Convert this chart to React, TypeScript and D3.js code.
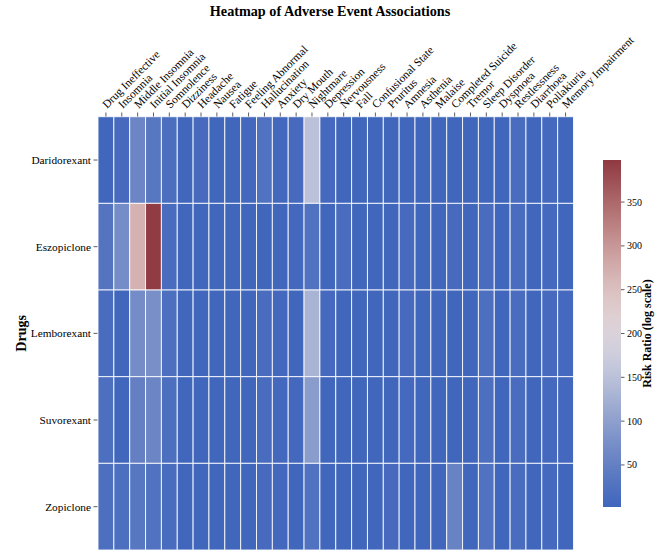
import React from 'react';
import * as d3 from 'd3';

const drugs = ['Daridorexant', 'Eszopiclone', 'Lemborexant', 'Suvorexant', 'Zopiclone'];

const events = [
  'Drug Ineffective', 'Insomnia', 'Middle Insomnia', 'Initial Insomnia', 'Somnolence',
  'Dizziness', 'Headache', 'Nausea', 'Fatigue', 'Feeling Abnormal', 'Hallucination',
  'Anxiety', 'Dry Mouth', 'Nightmare', 'Depression', 'Nervousness', 'Fall',
  'Confusional State', 'Pruritus', 'Amnesia', 'Asthenia', 'Malaise', 'Completed Suicide',
  'Tremor', 'Sleep Disorder', 'Dyspnoea', 'Restlessness', 'Diarrhoea', 'Pollakiuria',
  'Memory Impairment',
];

// risk ratios, one array per drug (same order as events)
const daridorexant = [5, 12, 60, 35, 18, 5, 12, 5, 5, 8, 25, 8, 12, 150, 10, 5, 5, 5, 5, 5, 5, 5, 5, 5, 5, 5, 15, 5, 10, 5];
const eszopiclone = [30, 70, 270, 395, 15, 5, 5, 5, 5, 5, 5, 5, 8, 25, 5, 15, 5, 5, 5, 12, 5, 5, 12, 5, 15, 5, 15, 5, 10, 5];
const lemborexant = [15, 5, 70, 75, 20, 5, 5, 5, 5, 5, 15, 8, 5, 130, 10, 5, 5, 5, 5, 12, 5, 5, 5, 5, 20, 5, 15, 5, 12, 10];
const suvorexant = [20, 5, 50, 60, 20, 5, 5, 5, 5, 5, 15, 8, 8, 95, 5, 5, 5, 5, 5, 10, 5, 5, 5, 5, 20, 5, 15, 5, 10, 8];
const zopiclone = [20, 20, 35, 25, 15, 5, 5, 5, 5, 5, 12, 8, 5, 25, 5, 5, 5, 5, 12, 5, 5, 5, 55, 5, 25, 5, 15, 5, 10, 5];

const seriesByDrug = [daridorexant, eszopiclone, lemborexant, suvorexant, zopiclone];

const colorTicks = [50, 100, 150, 200, 250, 300, 350];
const vMin = 2;
const vMax = 398;

const W = 658;
const H = 551;
const FONT = '"Liberation Serif", "Times New Roman", serif';

export default function App() {
  const left = 98;
  const right = 573.5;
  const top = 116.7;
  const bottom = 550;

  const x = d3.scaleBand<string>().domain(events).range([left, right]);
  const y = d3.scaleBand<string>().domain(drugs).range([top, bottom]);

  const interp = d3.interpolateRgbBasis(['#3f65bd', '#8a9bc9', '#f1eeee', '#cc9a98', '#8f3940']);
  const color = d3.scaleSequential(interp).domain([vMin, vMax]);

  const cbX = 603;
  const cbW = 18;
  const cbTop = 160;
  const cbBottom = 507;
  const cbScale = d3.scaleLinear().domain([vMin, vMax]).range([cbBottom, cbTop]);
  const stops = d3.range(0, 1.0001, 0.05);

  const cells = seriesByDrug.flatMap((vals, r) =>
    vals.map((v, c) => ({ drug: drugs[r], event: events[c], v }))
  );

  return (
    <svg
      width={W}
      height={H}
      style={{ position: 'absolute', left: 0, top: 0, background: '#fff' }}
      fontFamily={FONT}
    >
      <defs>
        <linearGradient id="cb" x1="0" y1="1" x2="0" y2="0">
          {stops.map(s => (
            <stop key={s} offset={s} stopColor={interp(s)} />
          ))}
        </linearGradient>
      </defs>

      <text x={330} y={16} textAnchor="middle" fontWeight="bold" fontSize={14.2}>
        Heatmap of Adverse Event Associations
      </text>

      {/* cells */}
      {cells.map((d, i) => (
        <rect
          key={i}
          x={x(d.event)}
          y={y(d.drug)}
          width={x.bandwidth()}
          height={y.bandwidth()}
          fill={color(d.v)}
          stroke="#fff"
          strokeOpacity={0.85}
          strokeWidth={1}
        />
      ))}

      {/* top x axis */}
      {events.map(e => {
        const cx = (x(e) as number) + x.bandwidth() / 2;
        return (
          <g key={e}>
            <line x1={cx} x2={cx} y1={112.5} y2={116.5} stroke="#333" strokeWidth={0.8} />
            <text
              transform={`translate(${cx + 1},${109}) rotate(-45)`}
              fontSize={11.5}
              textAnchor="start"
              fill="#000"
            >
              {e}
            </text>
          </g>
        );
      })}

      {/* y axis */}
      {drugs.map(dn => {
        const cy = (y(dn) as number) + y.bandwidth() / 2;
        return (
          <g key={dn}>
            <line x1={93.5} x2={97.5} y1={cy} y2={cy} stroke="#333" strokeWidth={0.8} />
            <text x={91} y={cy} dy="0.35em" textAnchor="end" fontSize={11.3}>
              {dn}
            </text>
          </g>
        );
      })}
      <text
        transform={`translate(26,${(top + bottom) / 2}) rotate(-90)`}
        textAnchor="middle"
        fontWeight="bold"
        fontSize={14}
      >
        Drugs
      </text>

      {/* colorbar */}
      <rect x={cbX} y={cbTop} width={cbW} height={cbBottom - cbTop} fill="url(#cb)" />
      {colorTicks.map(t => (
        <g key={t}>
          <line
            x1={cbX + cbW}
            x2={cbX + cbW + 3.5}
            y1={cbScale(t)}
            y2={cbScale(t)}
            stroke="#333"
            strokeWidth={0.8}
          />
          <text x={cbX + cbW + 6} y={cbScale(t)} dy="0.35em" fontSize={10}>
            {t}
          </text>
        </g>
      ))}
      <text
        transform={`translate(651,${(cbTop + cbBottom) / 2}) rotate(-90)`}
        textAnchor="middle"
        fontWeight="bold"
        fontSize={12}
      >
        Risk Ratio (log scale)
      </text>
    </svg>
  );
}
